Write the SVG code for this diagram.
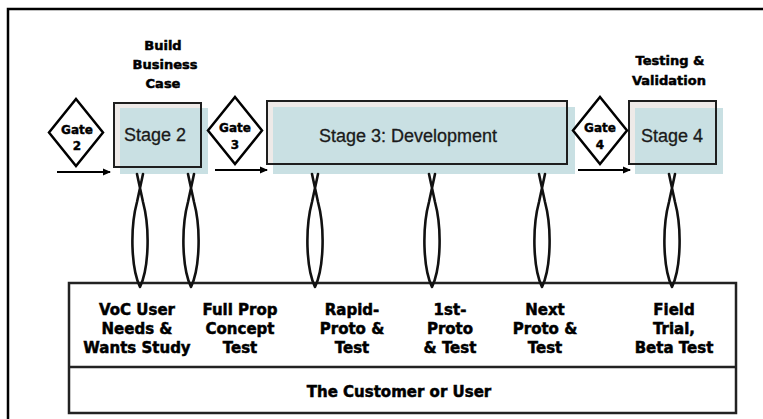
<svg xmlns="http://www.w3.org/2000/svg" width="763" height="419" viewBox="0 0 763 419">
<defs>
<style>
.frame{fill:none;stroke:#000;stroke-width:2.5}
.sbg{fill:#eeeae8;stroke:none}
.shade{fill:#c9e0e3;stroke:none}
.sline{fill:none;stroke:#1e1e1e;stroke-width:2}
.stxt{font-family:"Liberation Sans",Arial,sans-serif;font-size:18px;fill:#1a1a1a;stroke:#1a1a1a;stroke-width:0.3;text-anchor:middle}
.gate{fill:#fff;stroke:#000;stroke-width:2.5;stroke-linejoin:miter}
.gtxt{font-family:"DejaVu Sans",sans-serif;font-weight:bold;font-size:12px;fill:#000;stroke:#000;stroke-width:0.4;text-anchor:middle}
.lbl{font-family:"DejaVu Sans",sans-serif;font-weight:bold;font-size:13px;fill:#000;stroke:#000;stroke-width:0.5;text-anchor:middle}
.blbl{font-family:"DejaVu Sans",sans-serif;font-weight:bold;font-size:15px;fill:#000;stroke:#000;stroke-width:0.5;text-anchor:middle}
.loop{fill:none;stroke:#111;stroke-width:2.6;stroke-linejoin:round;stroke-linecap:round}
.arr{fill:none;stroke:#000;stroke-width:2.2}
.box{fill:#fff;stroke:#222;stroke-width:2.5}
</style>
<marker id="ah" markerWidth="8" markerHeight="8" refX="7" refY="4" orient="auto" markerUnits="userSpaceOnUse">
<path d="M0,0.5 L8,4 L0,7.5 Z" fill="#000"/>
</marker>
</defs>
<rect width="763" height="419" fill="#fff"/>
<path class="frame" d="M8,419 V9 H763"/>

<g id="customer">
<rect class="box" x="69" y="283" width="667" height="130"/>
<line x1="69" y1="367" x2="736" y2="367" stroke="#222" stroke-width="2.5"/>
<text class="blbl" x="399" y="397">The Customer or User</text>
</g>

<g id="label-voc">
<text class="blbl" x="137" y="315">VoC User</text>
<text class="blbl" x="137" y="334">Needs &amp;</text>
<text class="blbl" x="137" y="353">Wants Study</text>
</g>
<g id="label-fullprop">
<text class="blbl" x="240" y="315">Full Prop</text>
<text class="blbl" x="240" y="334">Concept</text>
<text class="blbl" x="240" y="353">Test</text>
</g>
<g id="label-rapid">
<text class="blbl" x="352" y="315">Rapid-</text>
<text class="blbl" x="352" y="334">Proto &amp;</text>
<text class="blbl" x="352" y="353">Test</text>
</g>
<g id="label-first">
<text class="blbl" x="450" y="315">1st-</text>
<text class="blbl" x="450" y="334">Proto</text>
<text class="blbl" x="450" y="353">&amp; Test</text>
</g>
<g id="label-next">
<text class="blbl" x="545" y="315">Next</text>
<text class="blbl" x="545" y="334">Proto &amp;</text>
<text class="blbl" x="545" y="353">Test</text>
</g>
<g id="label-field">
<text class="blbl" x="674" y="315">Field</text>
<text class="blbl" x="674" y="334">Trial,</text>
<text class="blbl" x="674" y="353">Beta Test</text>
</g>

<g id="stage2">
<rect class="sbg" x="114" y="103" width="87" height="64"/>
<rect class="shade" x="120" y="108" width="88" height="66"/>
<rect class="sline" x="114" y="103" width="87" height="64"/>
<text class="stxt" x="155" y="141">Stage 2</text>
</g>
<g id="stage3">
<rect class="sbg" x="267" y="101" width="300" height="63"/>
<rect class="shade" x="273" y="107" width="302" height="67"/>
<rect class="sline" x="267" y="101" width="300" height="63"/>
<text class="stxt" x="408" y="142">Stage 3: Development</text>
</g>
<g id="stage4">
<rect class="sbg" x="629" y="101" width="87" height="63"/>
<rect class="shade" x="635" y="108" width="88" height="66"/>
<rect class="sline" x="629" y="101" width="87" height="63"/>
<text class="stxt" x="672" y="142">Stage 4</text>
</g>

<g id="label-build">
<text class="lbl" x="163" y="50">Build</text>
<text class="lbl" x="165" y="69">Business</text>
<text class="lbl" x="163" y="88">Case</text>
</g>
<g id="label-testing">
<text class="lbl" x="670" y="65">Testing &amp;</text>
<text class="lbl" x="669" y="85">Validation</text>
</g>

<g id="gate2">
<polygon class="gate" points="76,99 103,132.5 76,166 49,132.5"/>
<text class="gtxt" x="77" y="134">Gate</text>
<text class="gtxt" x="77" y="150">2</text>
</g>
<g id="gate3">
<polygon class="gate" points="235,97 262,130.5 235,164 208,130.5"/>
<text class="gtxt" x="235" y="132">Gate</text>
<text class="gtxt" x="235" y="149">3</text>
</g>
<g id="gate4">
<polygon class="gate" points="600,97 627,130.5 600,164 573,130.5"/>
<text class="gtxt" x="600" y="132">Gate</text>
<text class="gtxt" x="600" y="149">4</text>
</g>

<g id="connectors">
<line class="arr" x1="57" y1="172" x2="110" y2="172" marker-end="url(#ah)"/>
<line class="arr" x1="215" y1="170" x2="267" y2="170" marker-end="url(#ah)"/>
<line class="arr" x1="578" y1="170" x2="630" y2="170" marker-end="url(#ah)"/>
<path class="loop" transform="translate(140,0)" d="M-3,174 L3,202 C10,228 9,268 0,287 C-9,268 -10,228 -3,202 L3,174"/>
<path class="loop" transform="translate(191,0)" d="M-3,174 L3,202 C10,228 9,268 0,287 C-9,268 -10,228 -3,202 L3,174"/>
<path class="loop" transform="translate(315,0)" d="M-3,174 L3,202 C10,228 9,268 0,287 C-9,268 -10,228 -3,202 L3,174"/>
<path class="loop" transform="translate(432,0)" d="M-3,174 L3,202 C10,228 9,268 0,287 C-9,268 -10,228 -3,202 L3,174"/>
<path class="loop" transform="translate(542,0)" d="M-3,174 L3,202 C10,228 9,268 0,287 C-9,268 -10,228 -3,202 L3,174"/>
<path class="loop" transform="translate(672,0)" d="M-3,174 L3,202 C10,228 9,268 0,287 C-9,268 -10,228 -3,202 L3,174"/>
</g>
</svg>
